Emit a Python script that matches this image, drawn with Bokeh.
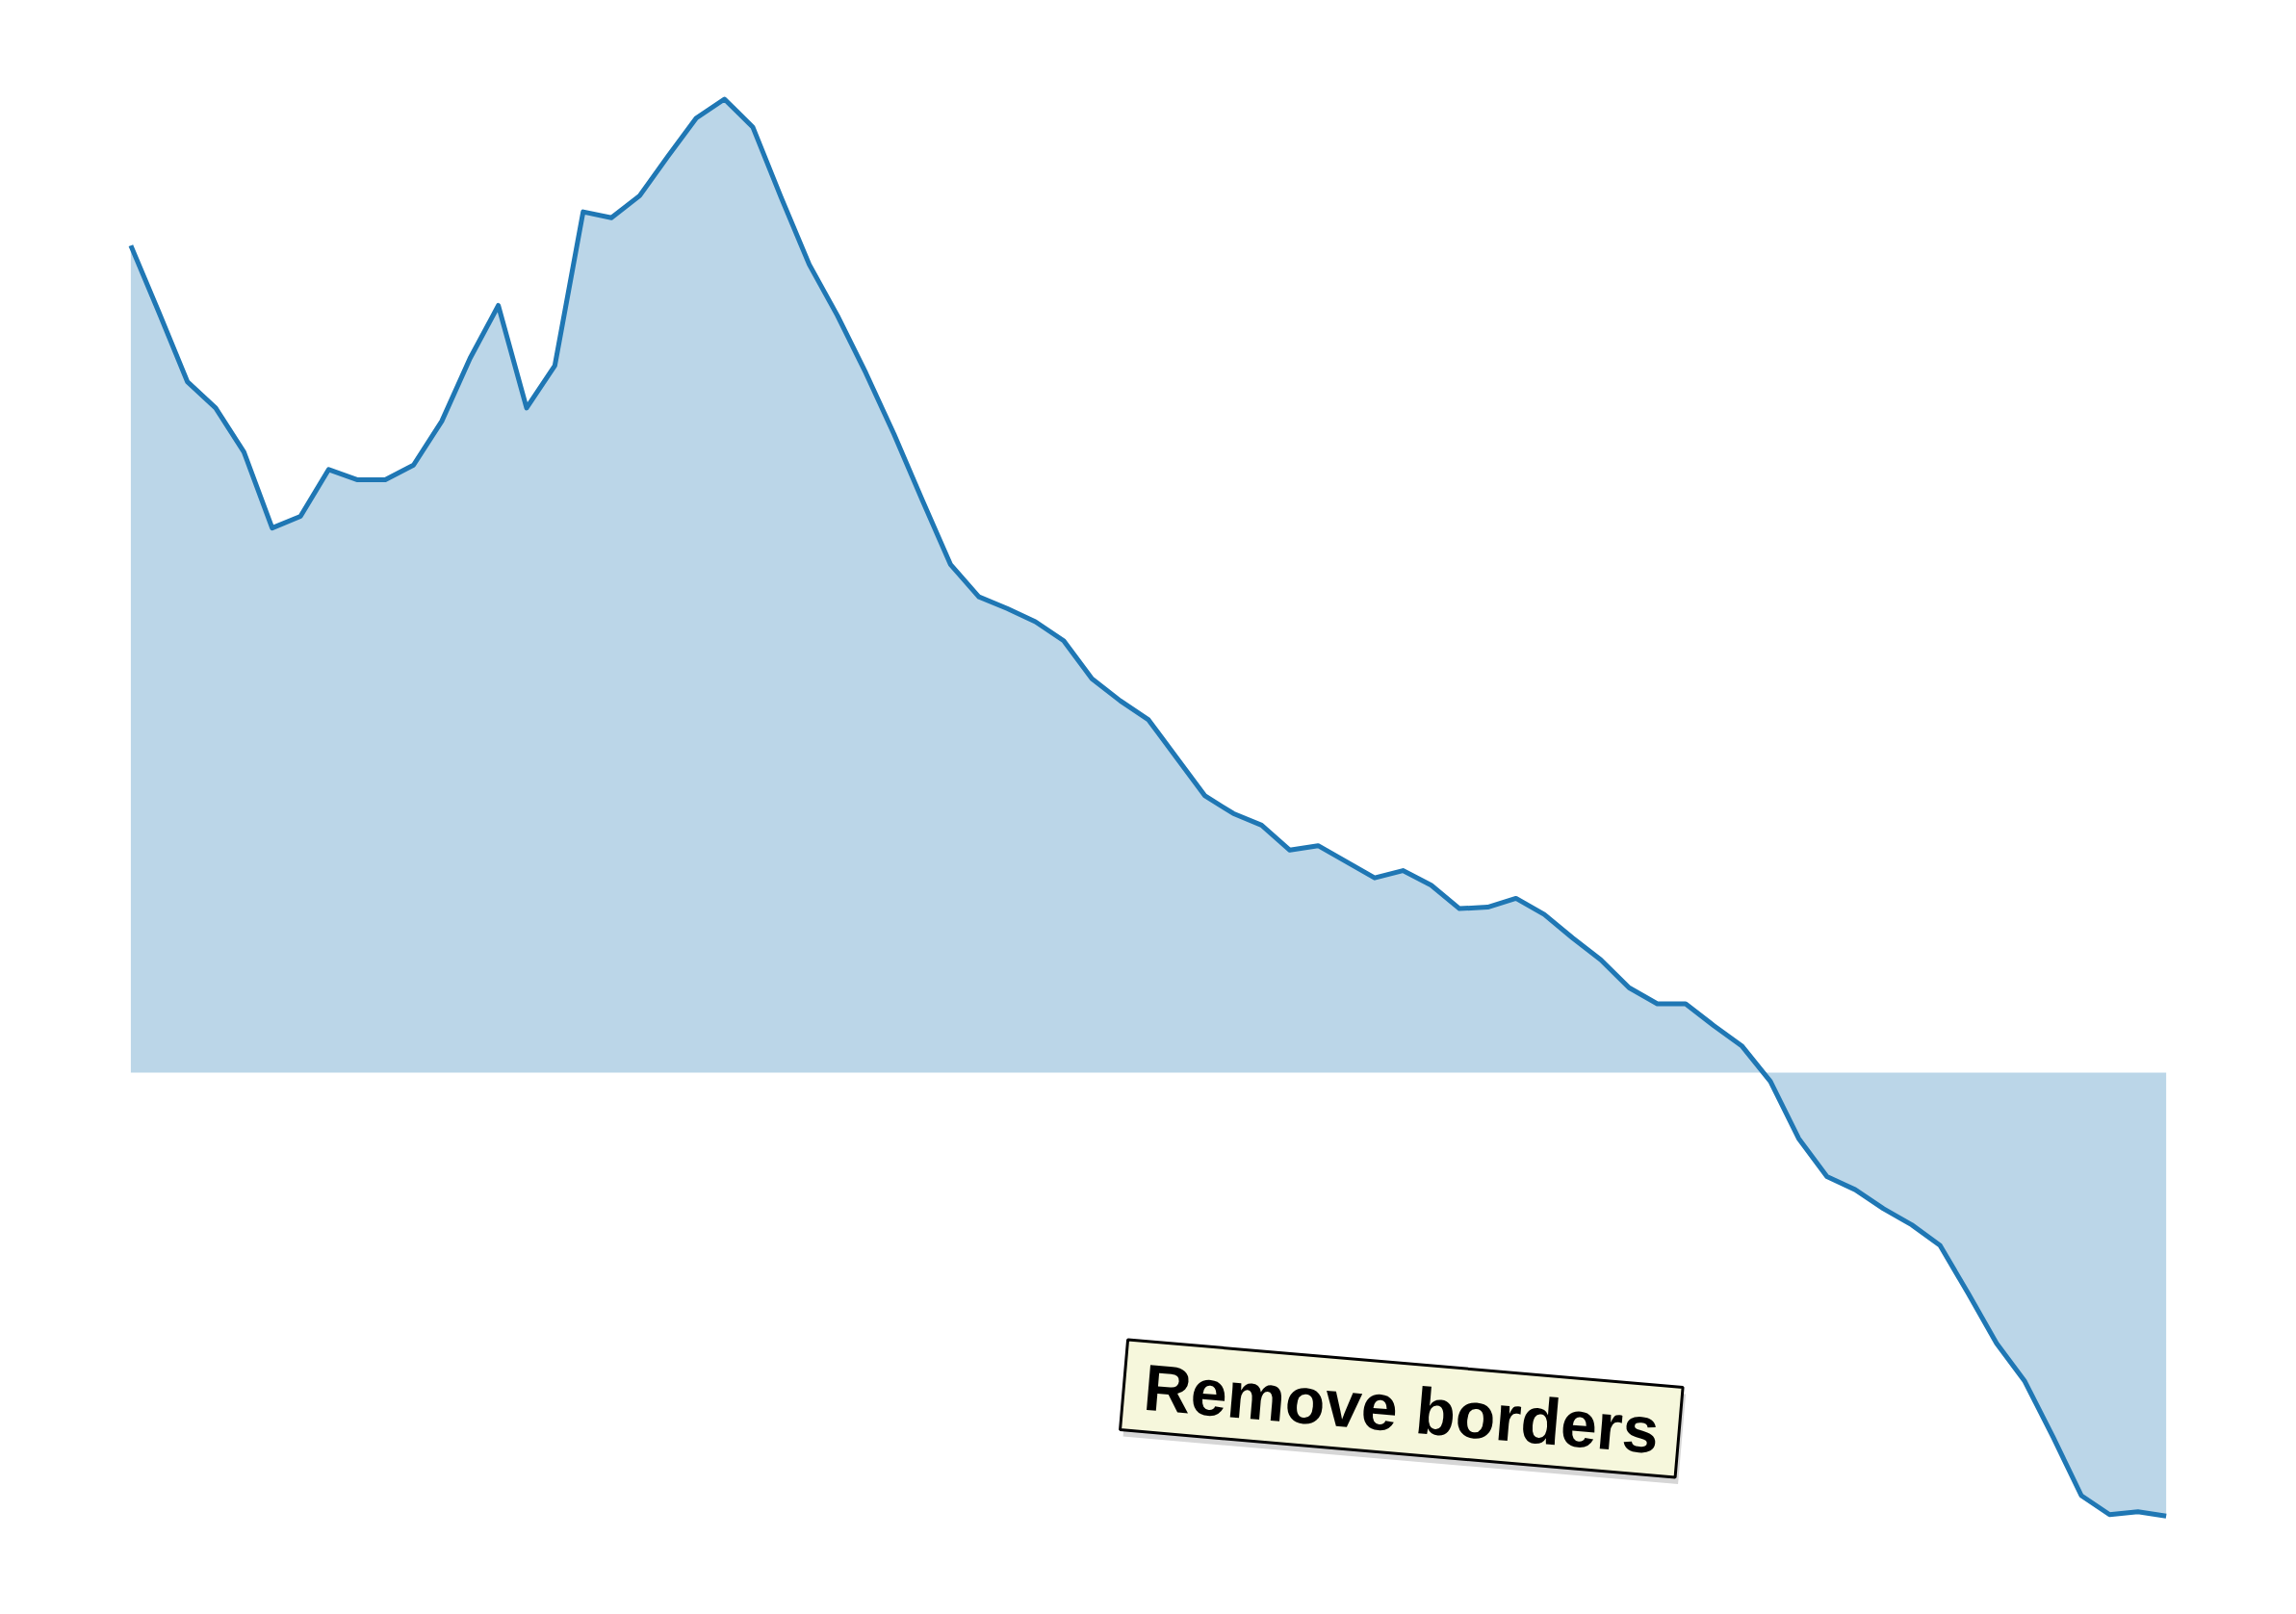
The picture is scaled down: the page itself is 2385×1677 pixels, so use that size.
from bokeh.plotting import figure
from bokeh.models import Range1d, Label, ColumnDataSource
from bokeh.embed import file_html
from bokeh.resources import INLINE

# data
steps = list(range(73))
values = [5.65, 5.19, 4.72, 4.54, 4.24, 3.72, 3.80, 4.12, 4.05, 4.05,
          4.15, 4.45, 4.88, 5.24, 4.54, 4.83, 5.88, 5.84, 5.99, 6.26,
          6.52, 6.65, 6.46, 5.98, 5.52, 5.17, 4.78, 4.36, 3.91, 3.47,
          3.25, 3.17, 3.08, 2.95, 2.69, 2.54, 2.41, 2.15, 1.89, 1.77,
          1.69, 1.52, 1.55, 1.44, 1.33, 1.38, 1.28, 1.12, 1.13, 1.19,
          1.08, 0.92, 0.77, 0.58, 0.47, 0.47, 0.32, 0.18, -0.06, -0.45,
          -0.71, -0.80, -0.93, -1.04, -1.18, -1.51, -1.85, -2.11, -2.49, -2.89,
          -3.02, -3.00, -3.03]
baseline = [0.0] * len(values)
label_text = "Remove borders"

W, H = 2385, 1677
src = ColumnDataSource(dict(x=steps, y=values, y0=baseline))

p = figure(width=W, height=H, output_backend="svg", toolbar_location=None,
           x_range=Range1d(-4.611, 76.61), y_range=Range1d(-3.702, 7.324),
           x_axis_location=None, y_axis_location=None, min_border=0)
p.grid.visible = False
p.outline_line_color = None
p.background_fill_color = "white"
p.border_fill_color = "white"

p.varea(x="x", y1="y0", y2="y", source=src, fill_color="#1f77b4", fill_alpha=0.3)
p.line(x="x", y="y", source=src, line_color="#1f77b4", line_width=5, line_join="round")

lx, ly = 44.95, -2.295
pad = dict(left=21, right=21, top=9, bottom=9)
shadow = Label(x=lx, y=ly, x_offset=3, y_offset=-7, text=label_text,
               text_font="Liberation Sans", text_font_style="bold",
               text_font_size="68px", text_align="center", text_baseline="middle",
               angle=-4.9, angle_units="deg", text_color="#d6d6d6",
               background_fill_color="#d6d6d6", background_fill_alpha=1.0,
               border_line_color=None, padding=pad)
lab = Label(x=lx, y=ly, text=label_text,
            text_font="Liberation Sans", text_font_style="bold",
            text_font_size="68px", text_align="center", text_baseline="middle",
            text_color="black", angle=-4.9, angle_units="deg",
            background_fill_color="#f6f7dc", background_fill_alpha=1.0,
            border_line_color="black", border_line_width=3,
            padding=pad)
p.add_layout(shadow)
p.add_layout(lab)

open("out.html", "w").write(file_html(p, INLINE))
